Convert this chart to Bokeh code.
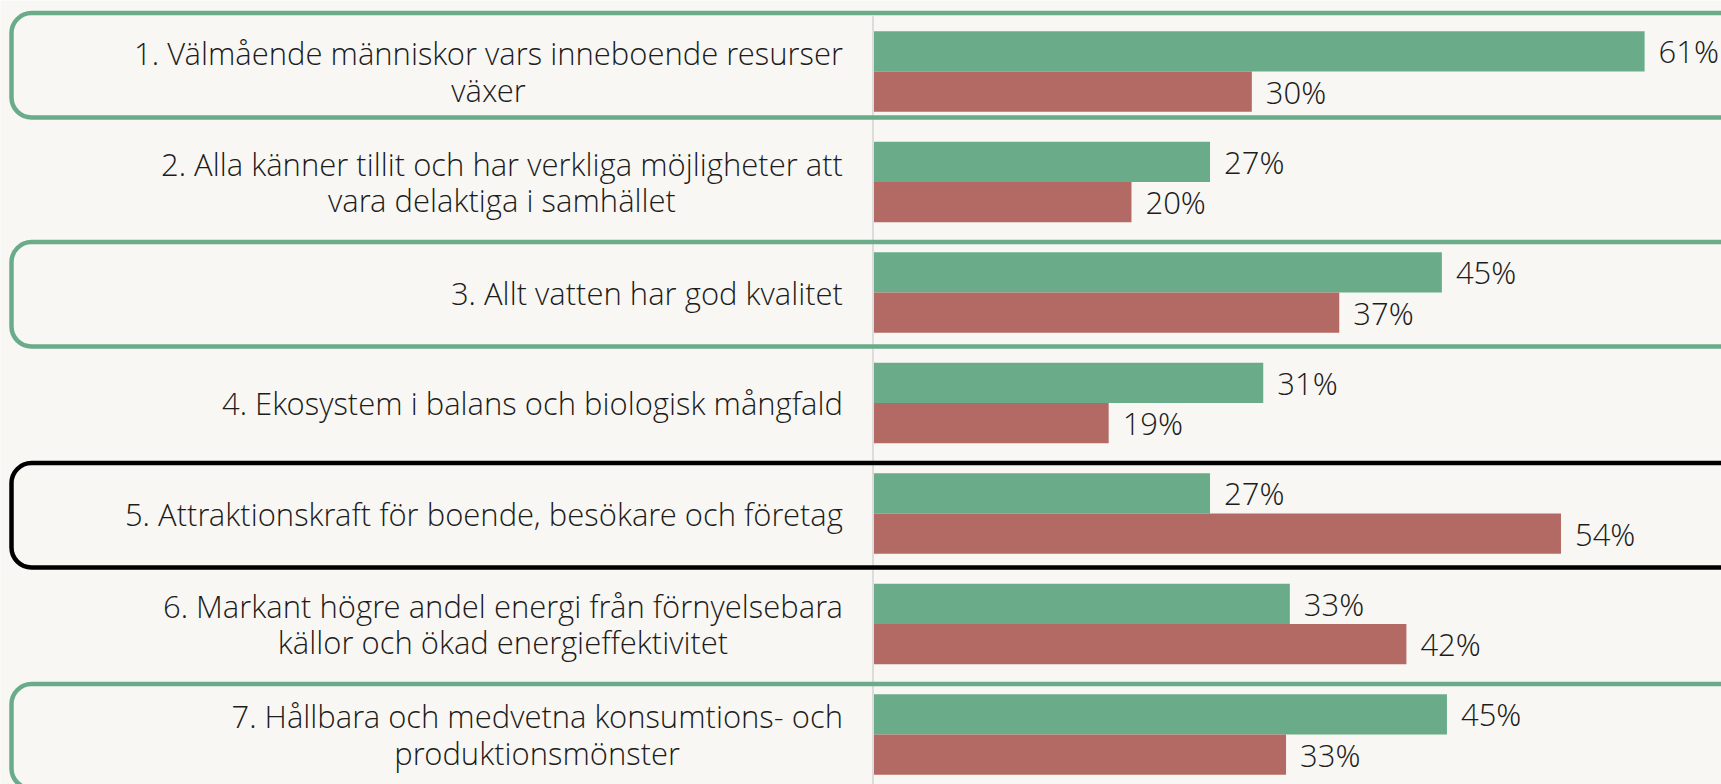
from bokeh.plotting import figure
from bokeh.models import ColumnDataSource, Range1d
from bokeh.transform import dodge
from bokeh.core.properties import value
from bokeh.embed import file_html
from bokeh.resources import INLINE

# ---------------- data ----------------
categories = [
    "1. Välmående människor vars inneboende resurser\nväxer",
    "2. Alla känner tillit och har verkliga möjligheter att\nvara delaktiga i samhället",
    "3. Allt vatten har god kvalitet",
    "4. Ekosystem i balans och biologisk mångfald",
    "5. Attraktionskraft för boende, besökare och företag",
    "6. Markant högre andel energi från förnyelsebara\nkällor och ökad energieffektivitet",
    "7. Hållbara och medvetna konsumtions- och\nproduktionsmönster",
]
green_values = [60.9, 26.6, 44.9, 30.8, 26.6, 32.9, 45.3]
red_values = [29.9, 20.4, 36.8, 18.6, 54.3, 42.1, 32.6]
highlight = ["green", None, "green", None, "black", None, "green"]

# ---------------- style / layout ----------------
BG = "#f8f7f3"
GREEN = "#6aac8a"
RED = "#b46a64"
TEXT = "#1c1c1c"
FONT = "Open Sans Light, Lato Light, Lato"
FS = "31px"

W, H = 1721, 784
PX_PER_PCT = 12.67
ZERO_PX = 872.5
ROW_PITCH = 110.5
FIRST_ROW_PX = 71.0
BAR_H = 40.2 / ROW_PITCH

x_start = -ZERO_PX / PX_PER_PCT
x_end = (W - ZERO_PX) / PX_PER_PCT
y_top = -FIRST_ROW_PX / ROW_PITCH
y_bottom = (H - FIRST_ROW_PX) / ROW_PITCH

n = len(categories)
idx = list(range(n))

p = figure(width=W, height=H, output_backend="svg", toolbar_location=None,
           x_range=Range1d(x_start, x_end), y_range=Range1d(y_bottom, y_top),
           min_border=0, min_border_left=0, min_border_right=0,
           min_border_top=0, min_border_bottom=0)
p.background_fill_color = BG
p.border_fill_color = BG
p.outline_line_color = None
p.xaxis.visible = False
p.yaxis.visible = False
p.xgrid.grid_line_color = None
p.ygrid.grid_line_color = None

src = ColumnDataSource(dict(
    idx=idx, cat=categories, green=green_values, red=red_values,
    glab=[f"{round(v)}%" for v in green_values],
    rlab=[f"{round(v)}%" for v in red_values],
))

# bars
p.hbar(y=dodge("idx", -BAR_H / 2, range=p.y_range), left=0, right="green",
       height=BAR_H, source=src, fill_color=GREEN, line_color=None)
p.hbar(y=dodge("idx", BAR_H / 2, range=p.y_range), left=0, right="red",
       height=BAR_H, source=src, fill_color=RED, line_color=None)

# axis line
p.segment(x0=0, x1=0, y0=-0.5, y1=n - 0.5, line_color="#dcdcdc", line_width=2)

# value labels
p.text(x="green", y=dodge("idx", -BAR_H / 2, range=p.y_range), text="glab", source=src,
       x_offset=14, text_align="left", text_baseline="middle",
       text_font=value(FONT), text_font_size=FS, text_color=TEXT)
p.text(x="red", y=dodge("idx", BAR_H / 2, range=p.y_range), text="rlab", source=src,
       x_offset=14, text_align="left", text_baseline="middle",
       text_font=value(FONT), text_font_size=FS, text_color=TEXT)

# category labels (block right-aligned, lines centred)
p.text(x=0, y="idx", text="cat", source=src, x_offset=-30,
       anchor=value("center_right"), text_align="center", text_baseline="middle",
       text_font=value(FONT), text_font_size=FS, text_color=TEXT,
       text_line_height=0.88)

# highlight boxes
nudge_px = [-8, 0, 0, 0, 0, 0, 0]
bx = dict(left=[], right=[], top=[], bottom=[], color=[])
for i, h in enumerate(highlight):
    if h is None:
        continue
    c = GREEN if h == "green" else "#000000"
    bx["left"].append(x_start + 11 / PX_PER_PCT)
    bx["right"].append(x_end + 10)
    bx["top"].append(i - 0.456 + nudge_px[i] / ROW_PITCH)
    bx["bottom"].append(i + 0.489 + nudge_px[i] / ROW_PITCH)
    bx["color"].append(c)
p.quad(left="left", right="right", top="top", bottom="bottom",
       source=ColumnDataSource(bx), fill_color=None, line_color="color",
       line_width=4.5, border_radius=20)

open("out.html", "w").write(file_html(p, INLINE))
